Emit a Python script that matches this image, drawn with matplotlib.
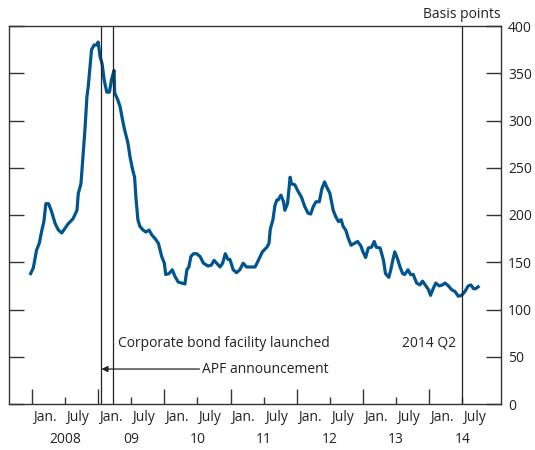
import matplotlib
matplotlib.use("Agg")
import matplotlib.pyplot as plt
from matplotlib.transforms import blended_transform_factory

plt.rcParams['font.family'] = ['Open Sans', 'DejaVu Sans']

# corporate bond spread, basis points, time as decimal years
years = [2007.98, 2008.02, 2008.07, 2008.11, 2008.15, 2008.18, 2008.21, 2008.25, 2008.29, 2008.35,
         2008.40, 2008.45, 2008.50, 2008.55, 2008.62, 2008.68, 2008.70, 2008.74, 2008.77, 2008.80,
         2008.83, 2008.85, 2008.88, 2008.90, 2008.94, 2008.98, 2009.00, 2009.03, 2009.06, 2009.09,
         2009.13, 2009.17, 2009.20, 2009.24, 2009.25, 2009.29, 2009.33, 2009.37, 2009.40, 2009.45,
         2009.48, 2009.52, 2009.55, 2009.57, 2009.60, 2009.63, 2009.68, 2009.72, 2009.77, 2009.81,
         2009.86, 2009.91, 2009.96, 2010.00, 2010.02, 2010.07, 2010.12, 2010.16, 2010.21, 2010.26,
         2010.31, 2010.34, 2010.37, 2010.40, 2010.44, 2010.49, 2010.54, 2010.59, 2010.66, 2010.71,
         2010.75, 2010.79, 2010.84, 2010.88, 2010.92, 2010.96, 2010.99, 2011.04, 2011.09, 2011.14,
         2011.19, 2011.24, 2011.32, 2011.37, 2011.42, 2011.48, 2011.55, 2011.58, 2011.60, 2011.64,
         2011.67, 2011.70, 2011.72, 2011.76, 2011.80, 2011.82, 2011.86, 2011.90, 2011.92, 2011.97,
         2012.02, 2012.07, 2012.12, 2012.17, 2012.21, 2012.25, 2012.29, 2012.34, 2012.38, 2012.42,
         2012.45, 2012.50, 2012.55, 2012.59, 2012.63, 2012.67, 2012.70, 2012.74, 2012.78, 2012.82,
         2012.87, 2012.92, 2012.97, 2013.00, 2013.04, 2013.08, 2013.13, 2013.17, 2013.20, 2013.26,
         2013.31, 2013.34, 2013.39, 2013.42, 2013.45, 2013.48, 2013.52, 2013.56, 2013.60, 2013.63,
         2013.68, 2013.72, 2013.76, 2013.81, 2013.86, 2013.90, 2013.94, 2013.99, 2014.02, 2014.06,
         2014.10, 2014.15, 2014.20, 2014.24, 2014.29, 2014.34, 2014.39, 2014.44, 2014.49, 2014.54,
         2014.59, 2014.63, 2014.67, 2014.70, 2014.74]
spread = [138, 144, 163, 170, 184, 193, 212, 212, 205, 191,
          184, 181, 186, 191, 196, 205, 223, 233, 262, 290,
          325, 336, 360, 375, 380, 380, 383, 367, 360, 343,
          330, 330, 343, 353, 329, 323, 315, 300, 290, 276,
          262, 248, 240, 219, 195, 188, 184, 182, 184, 179,
          175, 170, 156, 149, 137, 138, 142, 135, 129, 128,
          127, 142, 145, 156, 159, 159, 156, 149, 146, 147,
          152, 149, 145, 149, 159, 153, 153, 142, 139, 142,
          149, 145, 145, 145, 152, 161, 166, 170, 185, 195,
          210, 216, 216, 221, 214, 205, 212, 240, 233, 232,
          225, 219, 209, 202, 201, 209, 214, 214, 228, 235,
          230, 223, 205, 198, 193, 195, 188, 184, 175, 168,
          170, 172, 167, 161, 155, 165, 166, 172, 166, 165,
          152, 138, 134, 142, 152, 161, 154, 145, 138, 137,
          142, 137, 137, 128, 126, 130, 126, 121, 115, 122,
          128, 125, 126, 128, 125, 121, 119, 114, 115, 119,
          125, 126, 122, 122, 124]

apf_date = 2009.05
cbf_date = 2009.22
q2_date = 2014.50

jan_ticks = [2008, 2009, 2010, 2011, 2012, 2013, 2014]
july_ticks = [2008.5, 2009.5, 2010.5, 2011.5, 2012.5, 2013.5, 2014.5]
year_labels = ['2008', '09', '10', '11', '12', '13', '14']
y_ticks = [0, 50, 100, 150, 200, 250, 300, 350, 400]

fig = plt.figure(figsize=(5.35, 4.5), dpi=100)
ax = fig.add_axes([9/535, 46/450, 492/535, 378/450])

ax.plot(years, spread, color='#00558f', linewidth=2.3, solid_joinstyle='round')

for d in [apf_date, cbf_date, q2_date]:
    ax.axvline(d, color='#222222', linewidth=0.9)

ax.set_xlim(2007.653, 2015.085)
ax.set_ylim(0, 400)

for s in ax.spines.values():
    s.set_color('#333333')
    s.set_linewidth(1.0)

ax.set_xticks(jan_ticks)
ax.set_xticks(july_ticks, minor=True)
ax.tick_params(axis='x', which='major', direction='in', length=10.5, width=1, color='#333333', labelbottom=False)
ax.tick_params(axis='x', which='minor', direction='in', length=5, width=1, color='#333333', labelbottom=False)

ax.set_yticks(y_ticks)
ax.yaxis.set_ticks_position('both')
ax.tick_params(axis='y', direction='in', length=10.5, width=1, color='#333333',
               labelleft=False, labelright=True, labelsize=10, labelcolor='#222222', pad=5)

trans = blended_transform_factory(ax.transData, ax.transAxes)
for t in jan_ticks:
    ax.text(t + 0.015, -0.037, 'Jan.', transform=trans, ha='left', va='center', fontsize=10, color='#222222')
for t in july_ticks:
    ax.text(t + 0.015, -0.037, 'July', transform=trans, ha='left', va='center', fontsize=10, color='#222222')
for t, lab in zip(july_ticks, year_labels):
    ax.text(t, -0.093, lab, transform=trans, ha='center', va='center', fontsize=10, color='#222222')

ax.text(cbf_date + 0.08, 64.5, 'Corporate bond facility launched', ha='left', va='center', fontsize=10, color='#222222')
ax.text(q2_date - 0.09, 64.5, '2014 Q2', ha='right', va='center', fontsize=10, color='#222222')
ax.annotate('', xy=(apf_date, 37), xytext=(2010.53, 37),
            arrowprops=dict(arrowstyle='-|>', color='#222222', lw=0.9, mutation_scale=9, shrinkA=0, shrinkB=0))
ax.text(2010.57, 37, 'APF announcement', ha='left', va='center', fontsize=10, color='#222222')

top_trans = blended_transform_factory(ax.transAxes, fig.transFigure)
fig.text(1.0, 1 - 14/450, 'Basis points', transform=top_trans, ha='right', va='center',
         fontsize=10, color='#222222')

fig.savefig('out.png', dpi=100)
